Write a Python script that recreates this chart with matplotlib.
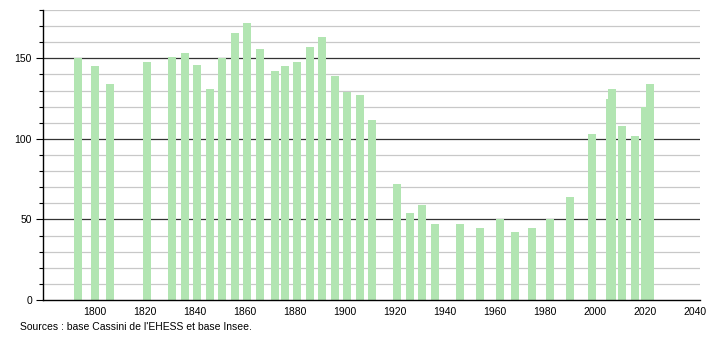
import matplotlib
matplotlib.use('Agg')
import matplotlib.pyplot as plt
from matplotlib.ticker import MultipleLocator

plt.rcParams['font.family'] = ['Liberation Sans', 'DejaVu Sans']

# census years and population
years = [1793, 1800, 1806, 1821, 1831, 1836, 1841, 1846, 1851, 1856,
         1861, 1866, 1872, 1876, 1881, 1886, 1891, 1896, 1901, 1906,
         1911, 1921, 1926, 1931, 1936, 1946, 1954, 1962, 1968, 1975,
         1982, 1990, 1999, 2006, 2007, 2011, 2016, 2020, 2022]
population = [150, 145, 134, 148, 151, 153, 146, 131, 150, 166,
              172, 156, 142, 145, 148, 157, 163, 139, 129, 127,
              112, 72, 54, 59, 47, 47, 45, 50, 42, 45,
              50, 64, 103, 125, 131, 108, 102, 120, 134]

x_ticks = [1800, 1820, 1840, 1860, 1880, 1900, 1920, 1940, 1960, 1980, 2000, 2020, 2040]
source_text = "Sources : base Cassini de l'EHESS et base Insee."

fig = plt.figure(figsize=(7.1, 3.4), dpi=100)
ax = fig.add_axes([0.0606, 0.1176, 0.925, 0.853])

ax.set_xlim(1779.2, 2042)
ax.set_ylim(0, 180)

# grid: light every 10, dark every 50
for v in range(10, 181, 10):
    if v % 50 == 0:
        ax.axhline(v, color='#333333', lw=0.9, zorder=1)
    else:
        ax.axhline(v, color='#c8c8c8', lw=0.9, zorder=1)

ax.bar(years, population, width=3.2, color='#b2e5b2', zorder=2)

ax.set_xticks(x_ticks)
ax.yaxis.set_major_locator(MultipleLocator(50))
ax.yaxis.set_minor_locator(MultipleLocator(10))
ax.tick_params(axis='x', length=0, labelsize=7.5, pad=5)
ax.tick_params(axis='y', which='major', length=5, width=0.8, labelsize=7.5, pad=3)
ax.tick_params(axis='y', which='minor', length=3, width=0.8)

for s in ['top', 'right']:
    ax.spines[s].set_visible(False)
ax.spines['left'].set_linewidth(1.0)
ax.spines['bottom'].set_linewidth(1.0)

fig.text(20 / 710, 1 - 327 / 340, source_text, fontsize=7.5, va='center', ha='left')

fig.savefig('out.png', dpi=100)
